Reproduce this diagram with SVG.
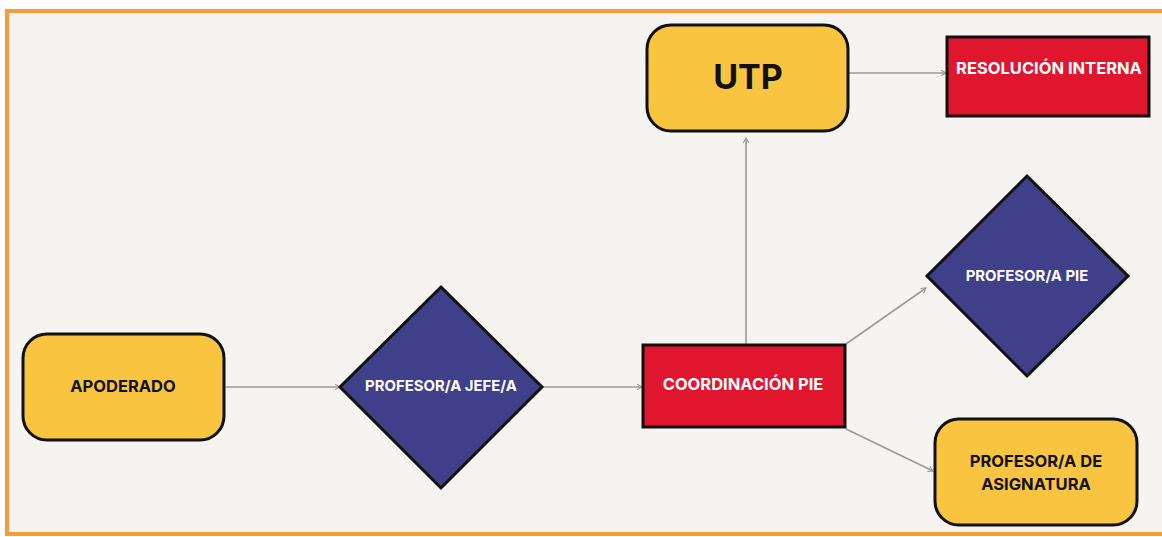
<svg xmlns="http://www.w3.org/2000/svg" width="1162" height="537" viewBox="0 0 1162 537">
  <style>
    .frame { fill: #F5F4F0; stroke: #F79A3A; stroke-width: 4; }
    .yellow { fill: #F9C440; stroke: #111; stroke-width: 3; }
    .navy { fill: #3F4089; stroke: #111; stroke-width: 3; }
    .red { fill: #E0152E; stroke: #111; stroke-width: 3; }
    .lbl { font-family: Inter, "Liberation Sans", sans-serif; font-weight: 700; font-size: 16.5px; text-anchor: middle; dominant-baseline: central; }
    .small { font-size: 14.9px; }
    .dark { fill: #111; }
    .light { fill: #fff; }
    .big { font-size: 34px; }
    .edge { fill: none; stroke: #9A9A9A; stroke-width: 1.6; marker-end: url(#arr); }
  </style>
  <defs>
    <marker id="arr" viewBox="0 0 10 10" refX="9" refY="5" markerWidth="7" markerHeight="7" markerUnits="userSpaceOnUse" orient="auto">
      <path d="M2,1 L9,5 L2,9" fill="none" stroke="#9A9A9A" stroke-width="1.6"/>
    </marker>
  </defs>

  <rect width="1162" height="537" fill="#fff"/>
  <rect class="frame" x="7" y="11" width="1160" height="523"/>

  <g id="connectors">
    <line class="edge" x1="226" y1="387" x2="340" y2="387"/>
    <line class="edge" x1="543" y1="387" x2="642" y2="387"/>
    <line class="edge" x1="746" y1="344" x2="746" y2="138"/>
    <line class="edge" x1="849" y1="73" x2="946" y2="73"/>
    <line class="edge" x1="846" y1="344" x2="926" y2="288"/>
    <line class="edge" x1="846" y1="429" x2="933" y2="471"/>
  </g>

  <g id="apoderado">
    <rect class="yellow" x="23" y="334" width="201" height="106" rx="24"/>
    <text class="lbl dark" x="123" y="386">APODERADO</text>
  </g>

  <g id="profesor-jefe">
    <polygon class="navy" points="441,287 542,387 441,488 340,387"/>
    <text class="lbl light small" x="441" y="386">PROFESOR/A JEFE/A</text>
  </g>

  <g id="coordinacion-pie">
    <rect class="red" x="643" y="345" width="202" height="82"/>
    <text class="lbl light" x="743" y="384">COORDINACIÓN PIE</text>
  </g>

  <g id="utp">
    <rect class="yellow" x="647" y="25" width="201" height="106" rx="24"/>
    <text class="lbl dark big" x="748" y="76">UTP</text>
  </g>

  <g id="resolucion-interna">
    <rect class="red" x="947" y="37" width="202" height="79"/>
    <text class="lbl light" x="1049" y="68">RESOLUCIÓN INTERNA</text>
  </g>

  <g id="profesor-pie">
    <polygon class="navy" points="1027,176 1128,276 1027,376 927,276"/>
    <text class="lbl light small" x="1027" y="276">PROFESOR/A PIE</text>
  </g>

  <g id="profesor-asignatura">
    <rect class="yellow" x="935" y="419" width="202" height="106" rx="24"/>
    <text class="lbl dark" x="1036" y="461">PROFESOR/A DE</text>
    <text class="lbl dark" x="1036" y="484">ASIGNATURA</text>
  </g>
</svg>
